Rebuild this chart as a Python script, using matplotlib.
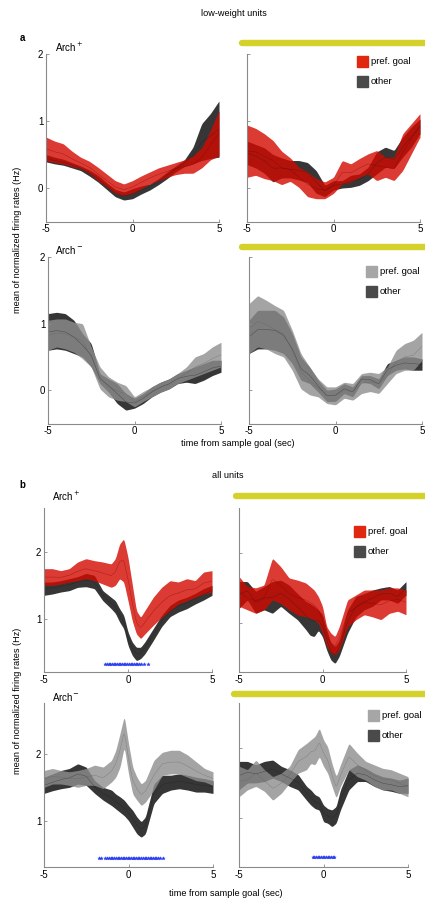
import numpy as np
import matplotlib
matplotlib.use("Agg")
import matplotlib.pyplot as plt
from matplotlib.patches import Rectangle
from matplotlib.lines import Line2D

plt.rcParams['font.family'] = ['Liberation Sans', 'DejaVu Sans']

# ---------------- data ----------------
T_A = [-5, -4.5, -4, -3.5, -3, -2.5, -2, -1.5, -1, -0.5, 0, 0.5, 1, 1.5, 2, 2.5, 3, 3.5, 4, 4.5, 5]
T_B = [-5, -4.5, -4, -3.5, -3, -2.5, -2, -1.5, -1, -0.75, -0.5, -0.25, 0, 0.25, 0.5, 0.75, 1,
       1.5, 2, 2.5, 3, 3.5, 4, 4.5, 5]

# a: low-weight units, Arch+ , left
a1_pref_lo = [0.41, 0.38, 0.36, 0.32, 0.29, 0.22, 0.11, 0.02, -0.08, -0.11, -0.08, -0.01, 0.06, 0.11, 0.16, 0.20, 0.22, 0.22, 0.30, 0.42, 0.48]
a1_pref_hi = [0.76, 0.70, 0.66, 0.55, 0.46, 0.40, 0.31, 0.21, 0.11, 0.06, 0.11, 0.18, 0.24, 0.30, 0.34, 0.38, 0.42, 0.48, 0.60, 0.86, 1.16]
a1_oth_lo = [0.39, 0.36, 0.34, 0.30, 0.26, 0.18, 0.09, -0.02, -0.13, -0.18, -0.16, -0.09, -0.03, 0.05, 0.14, 0.24, 0.32, 0.36, 0.41, 0.44, 0.46]
a1_oth_hi = [0.50, 0.46, 0.43, 0.38, 0.33, 0.27, 0.19, 0.08, -0.02, -0.06, -0.01, 0.03, 0.06, 0.14, 0.24, 0.33, 0.42, 0.61, 0.96, 1.11, 1.30]

# a: Arch+ , right
a2_pref_lo = [0.16, 0.19, 0.14, 0.11, 0.05, 0.10, 0.01, -0.13, -0.16, -0.16, -0.08, 0.06, 0.09, 0.16, 0.21, 0.11, 0.16, 0.11, 0.26, 0.51, 0.76]
a2_pref_hi = [0.94, 0.89, 0.81, 0.71, 0.55, 0.45, 0.31, 0.24, 0.14, 0.09, 0.16, 0.41, 0.36, 0.44, 0.51, 0.56, 0.46, 0.46, 0.81, 0.96, 1.11]
a2_oth_lo = [0.35, 0.30, 0.22, 0.09, 0.15, 0.15, 0.12, 0.08, -0.08, -0.13, -0.03, 0.00, 0.01, 0.04, 0.11, 0.21, 0.31, 0.29, 0.46, 0.61, 0.81]
a2_oth_hi = [0.70, 0.65, 0.60, 0.50, 0.45, 0.41, 0.41, 0.38, 0.26, 0.04, 0.11, 0.11, 0.19, 0.21, 0.31, 0.54, 0.61, 0.56, 0.76, 0.91, 1.03]

# a: Arch- , left
a3_pref_lo = [0.60, 0.65, 0.62, 0.57, 0.47, 0.35, 0.02, -0.10, -0.15, -0.17, -0.25, -0.17, -0.10, -0.03, 0.02, 0.10, 0.15, 0.20, 0.25, 0.30, 0.35]
a3_pref_hi = [1.05, 1.07, 1.07, 1.02, 1.00, 0.65, 0.35, 0.20, 0.12, 0.07, -0.10, -0.02, 0.05, 0.12, 0.17, 0.25, 0.35, 0.50, 0.55, 0.65, 0.72]
a3_oth_lo = [0.60, 0.62, 0.60, 0.55, 0.50, 0.35, 0.10, -0.03, -0.20, -0.30, -0.27, -0.20, -0.10, -0.03, 0.02, 0.10, 0.12, 0.10, 0.15, 0.22, 0.27]
a3_oth_hi = [1.15, 1.17, 1.15, 1.05, 0.85, 0.70, 0.25, 0.17, 0.10, -0.05, -0.12, -0.05, 0.05, 0.12, 0.17, 0.25, 0.30, 0.35, 0.40, 0.45, 0.45]

# a: Arch- , right
a4_pref_lo = [0.55, 0.65, 0.62, 0.55, 0.50, 0.30, 0.02, -0.07, -0.10, -0.20, -0.22, -0.12, -0.15, -0.05, -0.02, -0.05, 0.10, 0.25, 0.30, 0.30, 0.45]
a4_pref_hi = [1.30, 1.42, 1.35, 1.27, 1.20, 0.90, 0.55, 0.35, 0.17, 0.05, 0.05, 0.12, 0.10, 0.25, 0.27, 0.25, 0.35, 0.60, 0.70, 0.75, 0.87]
a4_oth_lo = [0.55, 0.62, 0.62, 0.60, 0.55, 0.40, 0.15, 0.10, -0.03, -0.17, -0.17, -0.05, -0.10, 0.12, 0.10, 0.02, 0.22, 0.30, 0.32, 0.30, 0.30]
a4_oth_hi = [1.05, 1.20, 1.20, 1.20, 1.10, 0.85, 0.50, 0.35, 0.15, 0.00, 0.02, 0.10, 0.05, 0.22, 0.22, 0.17, 0.40, 0.45, 0.50, 0.50, 0.47]

# b: all units, Arch+ , left
b1_pref_lo = [1.50, 1.50, 1.52, 1.55, 1.57, 1.60, 1.57, 1.52, 1.47, 1.50, 1.60, 1.55, 1.27, 0.97, 0.77, 0.70, 0.77, 0.90, 1.02, 1.12, 1.22, 1.27, 1.32, 1.37, 1.40]
b1_pref_hi = [1.75, 1.75, 1.72, 1.75, 1.85, 1.90, 1.87, 1.85, 1.82, 1.90, 2.12, 2.20, 1.92, 1.52, 1.12, 1.02, 1.12, 1.32, 1.47, 1.57, 1.55, 1.60, 1.57, 1.70, 1.72]
b1_oth_lo = [1.35, 1.37, 1.40, 1.42, 1.47, 1.48, 1.45, 1.27, 1.15, 1.08, 0.95, 0.85, 0.60, 0.45, 0.37, 0.40, 0.47, 0.67, 0.88, 1.03, 1.10, 1.15, 1.22, 1.28, 1.35]
b1_oth_hi = [1.55, 1.55, 1.57, 1.60, 1.63, 1.68, 1.65, 1.42, 1.32, 1.27, 1.15, 1.05, 0.80, 0.65, 0.57, 0.57, 0.65, 0.85, 1.05, 1.20, 1.28, 1.32, 1.38, 1.45, 1.50]
b1_sig = [-1.35, -1.25, -1.15, -1.05, -0.95, -0.85, -0.75, -0.65, -0.55, -0.45, -0.35, -0.25, -0.15,
          -0.05, 0.05, 0.15, 0.25, 0.35, 0.45, 0.55, 0.65, 0.75, 0.95, 1.2]

# b: Arch+ , right
b2_pref_lo = [1.24, 1.19, 1.14, 1.19, 1.33, 1.28, 1.19, 1.12, 1.09, 1.07, 1.05, 1.00, 0.86, 0.67, 0.58, 0.55, 0.62, 0.95, 1.05, 1.12, 1.09, 1.05, 1.14, 1.17, 1.12]
b2_pref_hi = [1.66, 1.52, 1.50, 1.54, 1.92, 1.80, 1.64, 1.61, 1.57, 1.52, 1.47, 1.38, 1.24, 0.95, 0.86, 0.81, 0.95, 1.33, 1.40, 1.47, 1.47, 1.47, 1.50, 1.50, 1.47]
b2_oth_lo = [1.21, 1.33, 1.14, 1.19, 1.14, 1.24, 1.14, 1.05, 0.91, 0.83, 0.81, 0.90, 0.81, 0.62, 0.48, 0.43, 0.53, 0.86, 1.09, 1.19, 1.24, 1.33, 1.33, 1.28, 1.40]
b2_oth_hi = [1.59, 1.59, 1.45, 1.52, 1.59, 1.61, 1.54, 1.42, 1.31, 1.28, 1.24, 1.19, 1.12, 0.91, 0.72, 0.67, 0.76, 1.19, 1.38, 1.42, 1.47, 1.50, 1.52, 1.47, 1.59]

# b: Arch- , left
b3_pref_lo = [1.50, 1.55, 1.55, 1.53, 1.50, 1.53, 1.53, 1.48, 1.58, 1.65, 1.80, 2.10, 1.70, 1.40, 1.31, 1.23, 1.28, 1.46, 1.68, 1.70, 1.70, 1.65, 1.60, 1.58, 1.53]
b3_pref_hi = [1.75, 1.78, 1.75, 1.73, 1.75, 1.78, 1.83, 1.80, 1.90, 2.05, 2.30, 2.56, 2.15, 1.80, 1.65, 1.55, 1.60, 1.90, 2.02, 2.05, 2.05, 1.98, 1.88, 1.78, 1.73]
b3_oth_lo = [1.41, 1.45, 1.48, 1.50, 1.55, 1.53, 1.41, 1.31, 1.23, 1.18, 1.13, 1.08, 1.01, 0.91, 0.81, 0.76, 0.81, 1.26, 1.41, 1.46, 1.48, 1.46, 1.43, 1.43, 1.41]
b3_oth_hi = [1.65, 1.70, 1.75, 1.78, 1.85, 1.80, 1.60, 1.50, 1.46, 1.40, 1.36, 1.31, 1.23, 1.16, 1.06, 0.99, 1.06, 1.55, 1.68, 1.68, 1.70, 1.68, 1.65, 1.63, 1.60]
b3_sig = [-1.77, -1.6, -1.42, -1.25, -1.15, -1.05, -0.95, -0.85, -0.75, -0.65, -0.55, -0.45, -0.35,
          -0.25, -0.15, -0.05, 0.05, 0.15, 0.25, 0.35, 0.45, 0.55, 0.65, 0.75, 0.85, 0.95, 1.05,
          1.15, 1.25, 1.35, 1.45, 1.55, 1.65, 1.75, 1.85, 2.05]

# b: Arch- , right
b4_pref_lo = [1.30, 1.40, 1.45, 1.38, 1.25, 1.35, 1.50, 1.64, 1.69, 1.78, 1.76, 1.88, 1.74, 1.64, 1.45, 1.28, 1.45, 1.69, 1.59, 1.54, 1.45, 1.40, 1.40, 1.35, 1.30]
b4_pref_hi = [1.74, 1.69, 1.83, 1.69, 1.59, 1.64, 1.74, 1.98, 2.07, 2.12, 2.17, 2.29, 2.12, 2.02, 1.78, 1.59, 1.76, 2.07, 1.93, 1.81, 1.76, 1.71, 1.69, 1.64, 1.59]
b4_oth_lo = [1.40, 1.50, 1.50, 1.52, 1.57, 1.52, 1.45, 1.40, 1.25, 1.18, 1.13, 1.11, 0.94, 0.92, 0.87, 0.92, 1.11, 1.40, 1.52, 1.52, 1.45, 1.40, 1.38, 1.35, 1.35]
b4_oth_hi = [1.81, 1.81, 1.76, 1.81, 1.83, 1.74, 1.69, 1.62, 1.45, 1.40, 1.33, 1.30, 1.18, 1.13, 1.11, 1.16, 1.40, 1.69, 1.76, 1.71, 1.64, 1.59, 1.57, 1.54, 1.57]
b4_sig = [-0.65, -0.55, -0.45, -0.35, -0.25, -0.15, -0.05, 0.05, 0.15, 0.25, 0.35, 0.45, 0.55, 0.65]

X_TICKS = [-5, 0, 5]
A_YTICKS = [0, 1, 2]
B_YTICKS = [1, 2]
LEGEND_LABELS = ['pref. goal', 'other']

# ---------------- style ----------------
W, H = 425, 899
RED = '#d30a00'
RED_LEG = '#e02810'
DARK = '#363636'
DARK_LEG = '#4a4a4a'
LIGHT = '#8e8e8e'
LIGHT_LEG = '#a6a6a6'
YELLOW = '#d4d22a'
SPINE = '#8a8a8a'
FS = 6.3

fig = plt.figure(figsize=(W / 100, H / 100), dpi=100)


def add_ax(x0, x1, y0, y1):
    return fig.add_axes([x0 / W, 1 - y1 / H, (x1 - x0) / W, (y1 - y0) / H])


def smooth(t, v):
    tf = np.linspace(-5, 5, 401)
    vf = np.interp(tf, t, v)
    k = 5
    pad = np.pad(vf, k // 2, mode='edge')
    vs = np.convolve(pad, np.ones(k) / k, mode='valid')
    return tf, vs


def band(ax, t, lo, hi, color, alpha, lcolor):
    tf, l = smooth(t, lo)
    _, h = smooth(t, hi)
    ax.fill_between(tf, l, h, color=color, alpha=alpha, lw=0)
    ax.plot(tf, (l + h) / 2, color=lcolor, lw=0.3, alpha=0.6)


def style(ax, ylim, yticks, ylabels):
    ax.set_xlim(-5, 5)
    ax.set_ylim(*ylim)
    for s in ['top', 'right']:
        ax.spines[s].set_visible(False)
    for s in ['left', 'bottom']:
        ax.spines[s].set_color(SPINE)
        ax.spines[s].set_linewidth(0.8)
    ax.set_xticks(X_TICKS)
    ax.set_xticklabels([str(v) for v in X_TICKS])
    ax.set_yticks(yticks)
    ax.set_yticklabels([str(v) for v in yticks] if ylabels else [])
    ax.tick_params(direction='in', length=2, width=0.6, color=SPINE, labelsize=FS + 0.7, pad=2)


def panel(ax, t, plo, phi, olo, ohi, pref_color, pref_line, ylim, yticks, ylabels, sig=None, sig_y=None):
    band(ax, t, olo, ohi, DARK, 1.0, '#1e1e1e')
    band(ax, t, plo, phi, pref_color, 0.8, pref_line)
    if sig is not None:
        ax.plot(sig, [sig_y] * len(sig), ls='none', marker='*', ms=2.6, color='#2b3ff0', mew=0.3)
    style(ax, ylim, yticks, ylabels)


# panel a
ax = add_ax(46, 219, 54, 221.5)
panel(ax, T_A, a1_pref_lo, a1_pref_hi, a1_oth_lo, a1_oth_hi, RED, '#7a0000', (-0.5, 2), A_YTICKS, True)
ax = add_ax(247, 420, 54, 221.5)
panel(ax, T_A, a2_pref_lo, a2_pref_hi, a2_oth_lo, a2_oth_hi, RED, '#7a0000', (-0.5, 2), A_YTICKS, False)
ax = add_ax(48, 221, 257, 423.5)
panel(ax, T_A, a3_pref_lo, a3_pref_hi, a3_oth_lo, a3_oth_hi, LIGHT, '#606060', (-0.5, 2), A_YTICKS, True)
ax = add_ax(249, 422, 257, 423.5)
panel(ax, T_A, a4_pref_lo, a4_pref_hi, a4_oth_lo, a4_oth_hi, LIGHT, '#606060', (-0.5, 2), A_YTICKS, False)

# panel b
ax = add_ax(44, 212, 508, 672)
panel(ax, T_B, b1_pref_lo, b1_pref_hi, b1_oth_lo, b1_oth_hi, RED, '#7a0000', (0.2, 2.66), B_YTICKS, True,
      b1_sig, 0.32)
ax = add_ax(239, 406, 508, 672)
panel(ax, T_B, b2_pref_lo, b2_pref_hi, b2_oth_lo, b2_oth_hi, RED, '#7a0000', (0.31, 2.63), B_YTICKS, False)
ax = add_ax(44, 213, 703, 867)
panel(ax, T_B, b3_pref_lo, b3_pref_hi, b3_oth_lo, b3_oth_hi, LIGHT, '#606060', (0.32, 2.75), B_YTICKS, True,
      b3_sig, 0.45)
ax = add_ax(239, 408, 703, 867)
panel(ax, T_B, b4_pref_lo, b4_pref_hi, b4_oth_lo, b4_oth_hi, LIGHT, '#606060', (0.29, 2.65), B_YTICKS, False,
      b4_sig, 0.44)


def ftext(x, y, s, **kw):
    fig.text(x / W, 1 - y / H, s, **kw)


# yellow bars
for (x0, y) in [(242, 43), (242, 247), (236, 496), (234, 694)]:
    fig.add_artist(Line2D([x0 / W, 1.05], [1 - y / H, 1 - y / H], color=YELLOW, lw=4.6,
                          solid_capstyle='round', transform=fig.transFigure))

# legends
for (x0, y0, cp) in [(357, 55.5, RED_LEG), (366, 266, LIGHT_LEG), (354, 526, RED_LEG), (368, 710, LIGHT_LEG)]:
    for i, (lab, c) in enumerate(zip(LEGEND_LABELS, [cp, DARK_LEG])):
        yy = y0 + i * 20
        fig.add_artist(Rectangle((x0 / W, 1 - (yy + 11) / H), 11 / W, 11 / H, color=c,
                                 transform=fig.transFigure))
        ftext(x0 + 14, yy + 5.5, lab, fontsize=FS + 0.5, va='center', ha='left')

# titles and labels
ftext(234, 14, 'low-weight units', fontsize=FS + 0.3, ha='center', va='center')
ftext(228, 476, 'all units', fontsize=FS + 0.3, ha='center', va='center')
ftext(22, 38, 'a', fontsize=FS + 0.7, fontweight='bold', ha='center', va='center')
ftext(22, 485, 'b', fontsize=FS + 0.7, fontweight='bold', ha='center', va='center')
ftext(55, 47, 'Arch$^+$', fontsize=FS + 0.7, ha='left', va='center')
ftext(55, 250, 'Arch$^-$', fontsize=FS + 0.7, ha='left', va='center')
ftext(52, 496, 'Arch$^+$', fontsize=FS + 0.7, ha='left', va='center')
ftext(52, 697, 'Arch$^{-}$', fontsize=FS + 0.7, ha='left', va='center')
ftext(238, 444, 'time from sample goal (sec)', fontsize=FS + 0.3, ha='center', va='center')
ftext(226, 893, 'time from sample goal (sec)', fontsize=FS + 0.3, ha='center', va='center')
ftext(18, 240, 'mean of normalized firing rates (Hz)', fontsize=FS + 0.3, ha='center', va='center', rotation=90)
ftext(18, 701, 'mean of normalized firing rates (Hz)', fontsize=FS + 0.3, ha='center', va='center', rotation=90)

fig.savefig('out.png', dpi=100)
